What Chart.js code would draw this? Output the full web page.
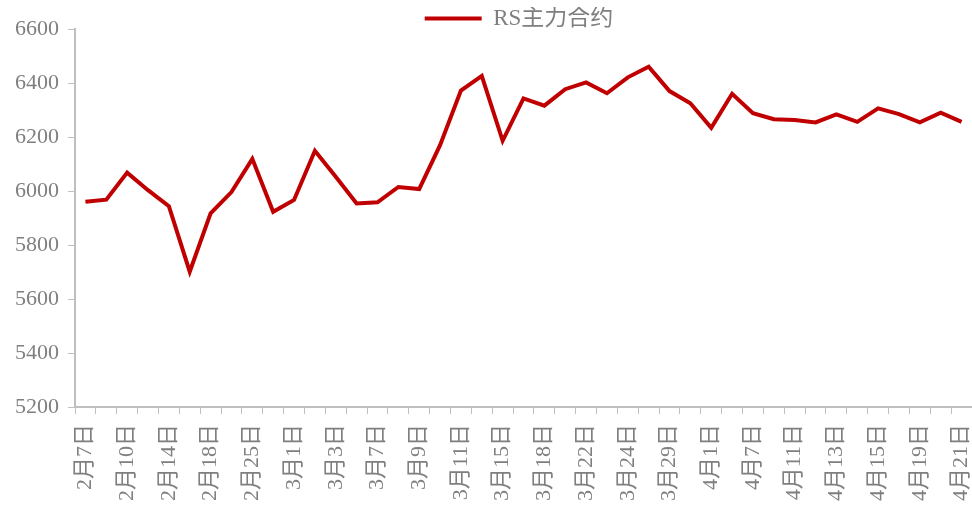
<!DOCTYPE html>
<html>
<head>
<meta charset="utf-8">
<script src="https://cdn.jsdelivr.net/npm/chart.js@4"></script>
<style>
  body { margin: 0; background: #fff; }
  #wrap { width: 972px; height: 506px; position: relative; }
</style>
</head>
<body>
<div id="wrap"><canvas id="rs-chart"></canvas></div>
<script>
// categories (only every other date is labelled on the axis)
const dates = [
    '2月7日', '2月8日', '2月10日', '2月11日', '2月14日', '2月16日', '2月18日', '2月22日',
    '2月25日', '2月28日', '3月1日', '3月2日', '3月3日', '3月4日', '3月7日', '3月8日',
    '3月9日', '3月10日', '3月11日', '3月14日', '3月15日', '3月16日', '3月18日', '3月21日',
    '3月22日', '3月23日', '3月24日', '3月25日', '3月29日', '3月30日', '4月1日', '4月6日',
    '4月7日', '4月8日', '4月11日', '4月12日', '4月13日', '4月14日', '4月15日', '4月18日',
    '4月19日', '4月20日', '4月21日'
];

// RS主力合约 close
const rsMain = [
    5960, 5968, 6068, 6003, 5944, 5701, 5917, 5996, 6119, 5923,
    5967, 6149, 6053, 5954, 5958, 6015, 6007, 6170, 6372, 6426,
    6186, 6343, 6316, 6377, 6402, 6362, 6421, 6460, 6370, 6325,
    6234, 6360, 6288, 6266, 6263, 6254, 6284, 6256, 6306, 6285,
    6254, 6290, 6256
];

const yTicks = { min: 5200, max: 6600, step: 200 };

const serif = "'Liberation Serif', 'Noto Sans CJK SC', serif";
const grey = '#7f7f7f';
const axisGrey = '#bfbfbf';

// move the legend down/right a bit without giving it more layout room
const legendNudge = {
    id: 'legendNudge',
    beforeDraw(chart) {
        const lg = chart.legend;
        if (lg && !lg._nudged) {
            lg.top += 11;
            lg.bottom += 11;
            lg.left += 33;
            lg.right += 33;
            lg._nudged = true;
        }
    }
};

const ctx = document.getElementById('rs-chart').getContext('2d');

new Chart(ctx, {
    type: 'line',
    data: {
        labels: dates,
        datasets: [{
            label: 'RS主力合约',
            data: rsMain,
            borderColor: '#c00000',
            backgroundColor: '#c00000',
            borderWidth: 4,
            pointRadius: 0,
            tension: 0,
            fill: false,
        }]
    },
    plugins: [legendNudge],
    options: {
        responsive: true,
        maintainAspectRatio: false,
        animation: false,
        layout: { padding: { top: -4 } },
        plugins: {
            legend: {
                position: 'top',
                labels: {
                    usePointStyle: true,
                    pointStyle: 'line',
                    pointStyleWidth: 57,
                    padding: 0,
                    color: grey,
                    font: { size: 23, family: serif },
                }
            },
            tooltip: { enabled: false }
        },
        scales: {
            x: {
                offset: true,
                grid: {
                    offset: true,
                    drawOnChartArea: false,
                    drawTicks: true,
                    tickLength: 7,
                    color: axisGrey,
                },
                border: { color: axisGrey, width: 2 },
                ticks: {
                    autoSkip: false,
                    maxRotation: 90,
                    minRotation: 90,
                    padding: 10,
                    color: grey,
                    font: { size: 22, family: serif },
                    callback: (val, i) => (i % 2 === 0 ? dates[i] : ''),
                },
                afterFit: (scale) => {
                    scale.height = 99;
                    scale.paddingRight = 0;
                    scale.paddingLeft = 0;
                }
            },
            y: {
                min: yTicks.min,
                max: yTicks.max,
                grid: {
                    drawOnChartArea: false,
                    drawTicks: true,
                    tickLength: 7,
                    color: axisGrey,
                },
                border: { color: axisGrey, width: 2 },
                ticks: {
                    stepSize: yTicks.step,
                    padding: 9,
                    color: grey,
                    font: { size: 22, family: serif },
                    callback: (val) => String(val),
                },
                afterFit: (scale) => { scale.width = 75; }
            }
        }
    }
});
</script>
</body>
</html>
